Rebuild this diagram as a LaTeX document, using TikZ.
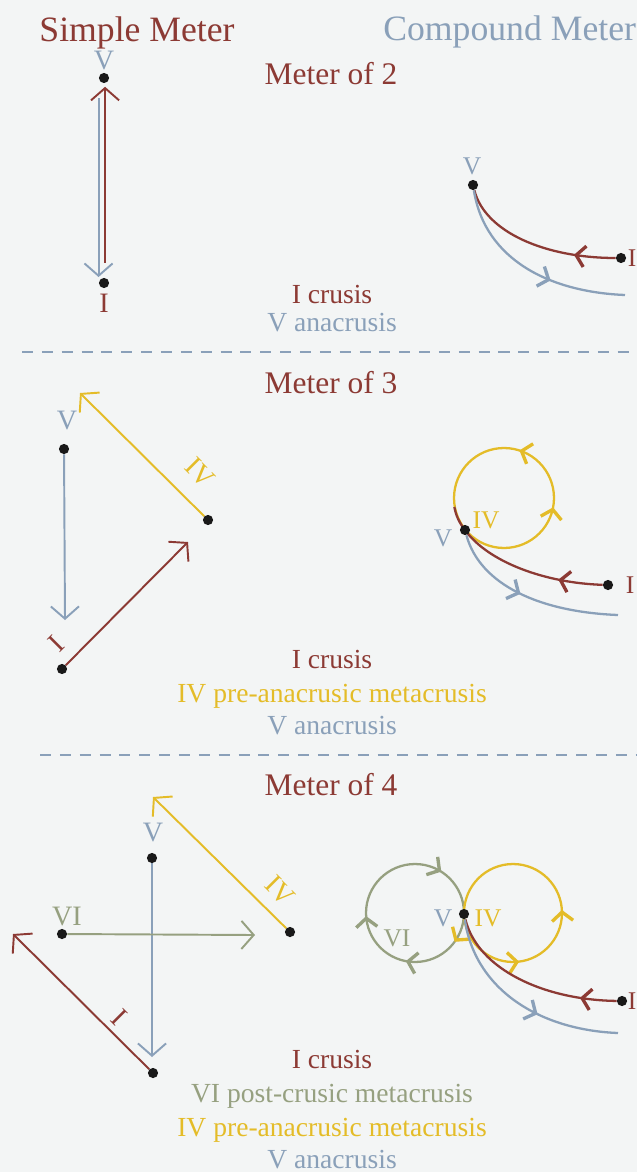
\documentclass[tikz,border=0pt]{standalone}
\usepackage{fontspec}
\setmainfont{Liberation Serif}
\usepackage{xcolor}
\usetikzlibrary{arrows.meta, positioning, decorations.markings}

\definecolor{crusis}{HTML}{8C3A34}
\definecolor{anacrusis}{HTML}{8AA0B9}
\definecolor{preana}{HTML}{E4BC28}
\definecolor{postcru}{HTML}{96A080}
\definecolor{paper}{HTML}{F3F5F5}

\pgfdeclarelayer{front}
\pgfsetlayers{main,front}

\begin{document}
\begin{tikzpicture}[x=0.02cm, y=0.02cm,
  beat/.style={circle, fill=black!90, inner sep=0pt, minimum size=5.8pt},
  lbl/.style={inner sep=0pt, font=\fontsize{16}{18}\selectfont},
  clbl/.style={inner sep=0pt, font=\fontsize{14.5}{16}\selectfont},
  txt/.style={inner sep=0pt, anchor=base, font=\fontsize{15.7}{18}\selectfont},
  meterhead/.style={inner sep=0pt, anchor=base, text=crusis, font=\fontsize{17.9}{20}\selectfont},
  metertitle/.style={inner sep=0pt, anchor=base, font=\fontsize{20.3}{24}\selectfont},
  arr/.style={-{Straight Barb[length=7pt, width=16pt]}, line width=1.1pt},
  cmpd/.style={line width=1.3pt},
  barline/.style={anacrusis, line width=1.6pt, dash pattern=on 6.3pt off 5pt},
  mtip/.tip={Straight Barb[length=5pt, width=12pt, line width=1.9pt]},
  along/.style={postaction={decorate},
    decoration={markings, mark=at position #1 with {\arrow{mtip}}}}
]
  \fill[paper] (0,0) rectangle (637,-1172);
  \useasboundingbox (0,0) rectangle (637,-1172);

  % Titles
  \node[metertitle, text=crusis] (simple) at (137,-41.5) {Simple Meter};
  \node[metertitle, text=anacrusis, anchor=base west] (compound) at (383,-40.5) {Compound Meter};

  % ---------- Meter of 2 ----------
  \node[meterhead] (m2) at (331,-85) {Meter of 2};

  \begin{pgfonlayer}{front}
    \node[beat] (s2V) at (104,-78) {};
    \node[beat] (s2I) at (104,-283) {};
    \node[beat] (c2V) at (473,-185) {};
    \node[beat] (c2I) at (621,-258) {};
  \end{pgfonlayer}
  \coordinate (c2end) at (625,-295);

  \draw[arr, crusis, shorten <=11.4pt, shorten >=5pt]
    ([xshift=0.6pt]s2I.center) -- ([xshift=0.6pt]s2V.center);
  \draw[arr, anacrusis, shorten <=11.4pt, shorten >=3.4pt]
    ([xshift=-3.1pt]s2V.center) -- ([xshift=-3.1pt]s2I.center);
  \node[lbl, text=anacrusis] (s2Vl) at (104,-61) {V};
  \node[lbl, text=crusis] (s2Il) at (104,-303) {I};

  \draw[crusis, cmpd, along=0.25] (c2I) .. controls (545,-258) and (485,-232) .. (c2V);
  \draw[anacrusis, cmpd, along=0.62] (c2V) .. controls (485,-260) and (550,-292) .. (c2end);
  \node[clbl, text=anacrusis] (c2Vl) at (472,-166) {V};
  \node[clbl, text=crusis] (c2Il) at (632,-258) {I};

  \node[txt, text=crusis] (t2a) at (332,-303) {I crusis};
  \node[txt, text=anacrusis] (t2b) at (332,-331) {V anacrusis};

  \draw[barline] (22,-352) -- (637,-352);

  % ---------- Meter of 3 ----------
  \node[meterhead] (m3) at (331,-393) {Meter of 3};

  \begin{pgfonlayer}{front}
    \node[beat] (s3V) at (64,-449) {};
    \node[beat] (s3I) at (62,-669) {};
    \node[beat] (s3IV) at (208,-520) {};
    \node[beat] (c3V) at (465,-530) {};
    \node[beat] (c3I) at (608,-585) {};
  \end{pgfonlayer}
  \coordinate (s3Vend) at (65,-620);
  \coordinate (s3Iend) at (188,-542);
  \coordinate (s3IVend) at (80,-393);
  \coordinate (c3O) at (504,-498);
  \coordinate (c3end) at (618,-615);

  \draw[arr, anacrusis] (s3V) -- (s3Vend);
  \draw[arr, crusis] (s3I) -- (s3Iend);
  \draw[arr, preana] (s3IV) -- (s3IVend);
  \node[lbl, text=anacrusis] (s3Vl) at (67,-421) {V};
  \node[lbl, text=crusis, rotate=45] (s3Il) at (56,-644) {I};
  \node[lbl, text=preana, rotate=-45] (s3IVl) at (200,-473) {IV};

  \draw[preana, cmpd, postaction={decorate}, decoration={markings,
      mark=at position 0.2 with {\arrow{mtip}},
      mark=at position 0.97 with {\arrow{mtip}}}] (c3O) circle[radius=1cm];
  \draw[crusis, cmpd, along=0.25] (c3I) .. controls (545,-583) and (488,-562) .. (c3V.center)
    arc[start angle=219.5, end angle=190, radius=1cm];
  \draw[anacrusis, cmpd, along=0.45] (c3V) .. controls (480,-585) and (540,-612) .. (c3end);
  \node[clbl, text=anacrusis] (c3Vl) at (443,-538) {V};
  \node[clbl, text=preana] (c3IVl) at (486,-520) {IV};
  \node[clbl, text=crusis] (c3Il) at (630,-585) {I};

  \node[txt, text=crusis] (t3a) at (332,-668) {I crusis};
  \node[txt, text=preana] (t3b) at (332,-702) {IV pre-anacrusic metacrusis};
  \node[txt, text=anacrusis] (t3c) at (332,-734) {V anacrusis};

  \draw[barline] (40,-755) -- (637,-755);

  % ---------- Meter of 4 ----------
  \node[meterhead] (m4) at (331,-795) {Meter of 4};

  \begin{pgfonlayer}{front}
    \node[beat] (s4V) at (152,-858) {};
    \node[beat] (s4VI) at (62,-934) {};
    \node[beat] (s4IV) at (290,-932) {};
    \node[beat] (s4I) at (153,-1073) {};
    \node[beat] (c4V) at (464,-914) {};
    \node[beat] (c4I) at (622,-1001) {};
  \end{pgfonlayer}
  \coordinate (s4Vend) at (152,-1057);
  \coordinate (s4VIend) at (255,-935);
  \coordinate (s4IVend) at (153,-797);
  \coordinate (s4Iend) at (13,-934);
  \coordinate (c4G) at (415,-913);
  \coordinate (c4Y) at (513,-913);
  \coordinate (c4end) at (618,-1033);

  \draw[arr, anacrusis] (s4V) -- (s4Vend);
  \draw[arr, postcru] (s4VI) -- (s4VIend);
  \draw[arr, preana] (s4IV) -- (s4IVend);
  \draw[arr, crusis] (s4I) -- (s4Iend);
  \node[lbl, text=anacrusis] (s4Vl) at (153,-833) {V};
  \node[lbl, text=postcru] (s4VIl) at (67,-916) {VI};
  \node[lbl, text=preana, rotate=-45] (s4IVl) at (280,-891) {IV};
  \node[lbl, text=crusis, rotate=-45] (s4Il) at (119,-1017) {I};

  \draw[postcru, cmpd, postaction={decorate}, decoration={markings,
      mark=at position 0.16 with {\arrowreversed{mtip}},
      mark=at position 0.51 with {\arrowreversed{mtip}},
      mark=at position 0.72 with {\arrowreversed{mtip}},
      mark=at position 0.9 with {\arrowreversed[preana]{mtip}}}] (c4G) circle[radius=0.98cm];
  \draw[preana, cmpd, postaction={decorate}, decoration={markings,
      mark=at position 0.01 with {\arrow{mtip}},
      mark=at position 0.77 with {\arrow{mtip}}}] (c4Y) circle[radius=0.98cm];
  \draw[crusis, cmpd, along=0.2] (c4I) .. controls (545,-1000) and (478,-970) .. (c4V);
  \draw[anacrusis, cmpd, along=0.6] (c4V) .. controls (475,-990) and (540,-1030) .. (c4end);
  \node[clbl, text=anacrusis] (c4Vl) at (443,-918) {V};
  \node[clbl, text=preana] (c4IVl) at (488,-918) {IV};
  \node[clbl, text=postcru] (c4VIl) at (397,-938) {VI};
  \node[clbl, text=crusis] (c4Il) at (632,-1001) {I};

  \node[txt, text=crusis] (t4a) at (332,-1068) {I crusis};
  \node[txt, text=postcru] (t4b) at (332,-1102) {VI post-crusic metacrusis};
  \node[txt, text=preana] (t4c) at (332,-1136) {IV pre-anacrusic metacrusis};
  \node[txt, text=anacrusis] (t4d) at (332,-1168) {V anacrusis};
\end{tikzpicture}
\end{document}
